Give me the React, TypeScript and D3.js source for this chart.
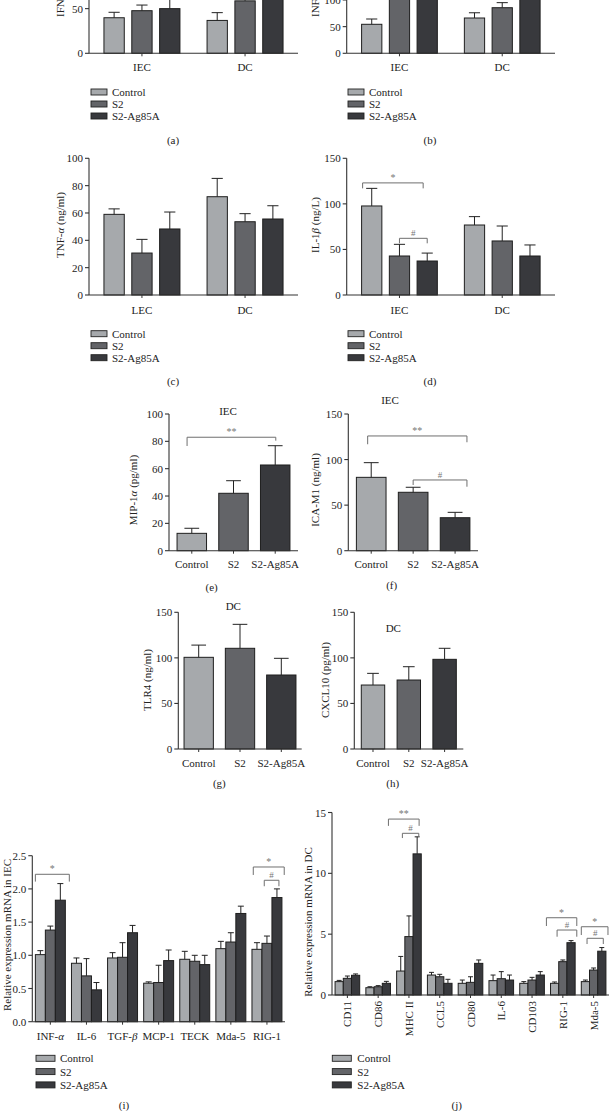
import React from "react";
import * as d3 from "d3";

const SERIES = ["Control", "S2", "S2-Ag85A"];
const COLORS = ["#a6a9ac", "#636468", "#38393d"];
const FONT = "'Liberation Serif', 'Times New Roman', serif";

// (a) IFN
const catsA = ["IEC", "DC"];
const aControl = [39.8, 36.8];
const aControlErr = [6.1, 8.7];
const aS2 = [47.7, 58.7];
const aS2Err = [6.3, 7];
const aAg = [50, 75];
const aAgErr = [15, 10];

// (b) INF
const catsB = ["IEC", "DC"];
const bControl = [54.4, 66.2];
const bControlErr = [9.9, 9.8];
const bS2 = [125, 85.5];
const bS2Err = [15, 9.5];
const bAg = [130, 115];
const bAgErr = [20, 15];

// (c) TNF-α
const catsC = ["LEC", "DC"];
const cControl = [59, 71.9];
const cControlErr = [4, 13.4];
const cS2 = [30.7, 53.6];
const cS2Err = [10, 5.9];
const cAg = [48.3, 55.6];
const cAgErr = [12.4, 9.7];

// (d) IL-1β
const catsD = ["IEC", "DC"];
const dControl = [97.7, 76.8];
const dControlErr = [19.3, 9.2];
const dS2 = [42.8, 59.3];
const dS2Err = [12.8, 16.4];
const dAg = [37.3, 42.8];
const dAgErr = [8.7, 12.1];

// (e)-(h) single groups
const eMeans = [12.7, 42, 62.7];
const eErrs = [3.7, 9.2, 14.1];
const fMeans = [80.5, 64.1, 36.2];
const fErrs = [16.1, 5.5, 5.9];
const gMeans = [100.6, 110.5, 81.2];
const gErrs = [13.4, 26.3, 18.3];
const hMeans = [70.2, 75.7, 98.4];
const hErrs = [12.8, 14.6, 12.1];

// (i) IEC mRNA
const catsI = ["INF-α", "IL-6", "TGF-β", "MCP-1", "TECK", "Mda-5", "RIG-1"];
const iControl = [1.01, 0.88, 0.96, 0.58, 0.94, 1.10, 1.09];
const iControlErr = [0.06, 0.08, 0.08, 0.02, 0.12, 0.11, 0.10];
const iS2 = [1.38, 0.69, 0.97, 0.59, 0.91, 1.20, 1.18];
const iS2Err = [0.06, 0.26, 0.22, 0.26, 0.09, 0.14, 0.11];
const iAg = [1.83, 0.48, 1.34, 0.92, 0.86, 1.63, 1.87];
const iAgErr = [0.25, 0.11, 0.11, 0.16, 0.14, 0.11, 0.13];

// (j) DC mRNA
const catsJ = ["CD11", "CD86", "MHC II", "CCL5", "CD80", "IL-6", "CD103", "RIG-1", "Mda-5"];
const jControl = [1.1, 0.6, 1.97, 1.64, 0.96, 1.18, 0.96, 0.96, 1.1];
const jControlErr = [0.1, 0.08, 1.2, 0.22, 0.27, 0.46, 0.14, 0.11, 0.13];
const jS2 = [1.37, 0.68, 4.8, 1.5, 1.04, 1.34, 1.23, 2.74, 2.05];
const jS2Err = [0.19, 0.09, 1.7, 0.2, 0.46, 0.58, 0.22, 0.14, 0.17];
const jAg = [1.62, 0.96, 11.6, 0.96, 2.6, 1.23, 1.64, 4.3, 3.6];
const jAgErr = [0.11, 0.16, 1.4, 0.33, 0.28, 0.41, 0.28, 0.17, 0.3];

type Seg = { t: string; it: boolean };
function segs(s: string): Seg[] {
  const out: Seg[] = [];
  for (const ch of s) {
    const it = /[αβγ]/.test(ch);
    const last = out[out.length - 1];
    if (last && last.it === it) last.t += ch;
    else out.push({ t: ch, it });
  }
  return out;
}
function RT(props: any) {
  const { s, ...rest } = props;
  return (
    <text fontFamily={FONT} fontSize={11} fill="#222" {...rest}>
      {segs(s).map((g, i) => (
        <tspan key={i} fontStyle={g.it ? "italic" : "normal"}>{g.t}</tspan>
      ))}
    </text>
  );
}

interface Bracket {
  cat: number; fromS: number; fromF: number; toS: number; toF: number;
  y: number; yl: number; yr: number; label: string;
}

function Legend({ x, y, gap, w, h, tx }: any) {
  return (
    <g>
      {SERIES.map((s, i) => (
        <g key={s}>
          <rect x={x} y={y + i * gap - h / 2} width={w} height={h} fill={COLORS[i]} stroke="#222" strokeWidth={0.9} />
          <text x={x + tx} y={y + i * gap + 4} fontFamily={FONT} fontSize={11} fill="#222">{s}</text>
        </g>
      ))}
    </g>
  );
}

function YAxis({ y, x, ticks, fmt, top }: any) {
  const vis = ticks.filter((t: number) => y(t) >= -3);
  return (
    <g>
      <line x1={x} x2={x} y1={y(0)} y2={top} stroke="#333" strokeWidth={1.1} />
      {vis.map((t: number) => (
        <g key={t}>
          <line x1={x - 4} x2={x} y1={y(t)} y2={y(t)} stroke="#333" strokeWidth={1.1} />
          <text x={x - 6} y={y(t) + 4} textAnchor="end" fontFamily={FONT} fontSize={11} fill="#222">{fmt(t)}</text>
        </g>
      ))}
    </g>
  );
}

function Grouped(cfg: any) {
  const x0 = d3.scaleBand<string>().domain(cfg.cats).range(cfg.xr).paddingInner(cfg.pIn).paddingOuter(cfg.pOut);
  const x1 = d3.scaleBand<string>().domain(SERIES).range([0, x0.bandwidth()]).paddingInner(cfg.barPad);
  const y = d3.scaleLinear().domain(cfg.domain).range([cfg.yb, cfg.yt]);
  const bw = x1.bandwidth();
  const cx = (ci: number, si: number) => (x0(cfg.cats[ci]) as number) + (x1(SERIES[si]) as number) + bw / 2;
  const capW = bw * cfg.capFrac;
  return (
    <g>
      {SERIES.map((s, si) =>
        cfg.cats.map((c: string, ci: number) => {
          const v = cfg.means[si][ci];
          const e = cfg.errs[si][ci];
          const xc = cx(ci, si);
          return (
            <g key={s + c}>
              <rect x={xc - bw / 2} y={y(v)} width={bw} height={y(0) - y(v)} fill={COLORS[si]} stroke="#1e1e1e" strokeWidth={1} />
              <line x1={xc} x2={xc} y1={y(v)} y2={y(v + e)} stroke="#222" strokeWidth={1} />
              <line x1={xc - capW / 2} x2={xc + capW / 2} y1={y(v + e)} y2={y(v + e)} stroke="#222" strokeWidth={1} />
            </g>
          );
        })
      )}
      <YAxis y={y} x={cfg.xr[0]} ticks={cfg.ticks} fmt={cfg.fmt} top={cfg.yt} />
      <line x1={cfg.xr[0]} x2={cfg.xr[1]} y1={y(0)} y2={y(0)} stroke="#333" strokeWidth={1.1} />
      {cfg.cats.map((c: string) => {
        const mx = (x0(c) as number) + x0.bandwidth() / 2;
        return (
          <g key={c}>
            <line x1={mx} x2={mx} y1={y(0)} y2={y(0) + 3} stroke="#333" strokeWidth={1} />
            {cfg.catRot ? (
              <RT s={c} transform={`translate(${mx + 4},${cfg.catY}) rotate(-90)`} textAnchor="end" />
            ) : (
              <RT s={c} x={mx} y={cfg.catY + 4} textAnchor="middle" />
            )}
          </g>
        );
      })}
      {cfg.brackets.map((b: Bracket, k: number) => {
        const xl = cx(b.cat, b.fromS) + b.fromF * bw;
        const xr = cx(b.cat, b.toS) + b.toF * bw;
        return (
          <g key={k}>
            <path d={`M${xl},${y(b.yl)}V${y(b.y)}H${xr}V${y(b.yr)}`} fill="none" stroke="#6f6f6f" strokeWidth={1} />
            <text x={(xl + xr) / 2} y={y(b.y) - 2} textAnchor="middle" fontFamily={FONT} fontSize={b.label === "#" ? 9 : 10} fill="#777">{b.label}</text>
          </g>
        );
      })}
      <RT s={cfg.ylabel} transform={`translate(${cfg.ylx},${cfg.yly}) rotate(-90)`} textAnchor={cfg.ylAnchor} dominantBaseline="central" />
      <Legend {...cfg.legend} />
    </g>
  );
}

interface SBracket { fromC: number; fromF: number; toC: number; toF: number; y: number; yl: number; yr: number; label: string }

function Simple(cfg: any) {
  const x = d3.scaleBand<string>().domain(SERIES).range(cfg.xr).paddingInner(cfg.pIn).paddingOuter(cfg.pOut);
  const y = d3.scaleLinear().domain(cfg.domain).range([cfg.yb, cfg.yt]);
  const bw = x.bandwidth();
  const cx = (i: number) => (x(SERIES[i]) as number) + bw / 2;
  const capW = bw * 0.5;
  return (
    <g>
      {SERIES.map((s, i) => {
        const v = cfg.means[i];
        const e = cfg.errs[i];
        const xc = cx(i);
        return (
          <g key={s}>
            <rect x={xc - bw / 2} y={y(v)} width={bw} height={y(0) - y(v)} fill={COLORS[i]} stroke="#1e1e1e" strokeWidth={1} />
            <line x1={xc} x2={xc} y1={y(v)} y2={y(v + e)} stroke="#222" strokeWidth={1} />
            <line x1={xc - capW / 2} x2={xc + capW / 2} y1={y(v + e)} y2={y(v + e)} stroke="#222" strokeWidth={1} />
            <line x1={xc} x2={xc} y1={y(0)} y2={y(0) + 3} stroke="#333" strokeWidth={1} />
            <text x={xc} y={cfg.catY + 4} textAnchor="middle" fontFamily={FONT} fontSize={11} fill="#222">{s}</text>
          </g>
        );
      })}
      <YAxis y={y} x={cfg.xr[0]} ticks={cfg.ticks} fmt={(v: number) => String(v)} top={cfg.yt} />
      <line x1={cfg.xr[0]} x2={cfg.xr[1]} y1={y(0)} y2={y(0)} stroke="#333" strokeWidth={1.1} />
      {cfg.brackets.map((b: SBracket, k: number) => {
        const xl = cx(b.fromC) + b.fromF * bw;
        const xr = cx(b.toC) + b.toF * bw;
        return (
          <g key={k}>
            <path d={`M${xl},${y(b.yl)}V${y(b.y)}H${xr}V${y(b.yr)}`} fill="none" stroke="#6f6f6f" strokeWidth={1} />
            <text x={(xl + xr) / 2} y={y(b.y) - 2} textAnchor="middle" fontFamily={FONT} fontSize={b.label === "#" ? 9 : 10} fill="#777">{b.label}</text>
          </g>
        );
      })}
      <text x={cfg.titleX} y={cfg.titleY + 4} textAnchor="middle" fontFamily={FONT} fontSize={11} fill="#222">{cfg.title}</text>
      <RT s={cfg.ylabel} transform={`translate(${cfg.ylx},${cfg.yly}) rotate(-90)`} textAnchor="middle" dominantBaseline="central" />
    </g>
  );
}

const int = (v: number) => String(v);
const legAB = { gap: 12, w: 16, h: 6, tx: 21 };
const legIJ = { gap: 13.3, w: 19, h: 6, tx: 24 };

const panelLabels = [
  ["(a)", 173, 140], ["(b)", 430, 140], ["(c)", 173, 381], ["(d)", 430, 381],
  ["(e)", 211.7, 586.7], ["(f)", 391.7, 585], ["(g)", 219.3, 783.3], ["(h)", 392.7, 783.3],
  ["(i)", 124, 1105], ["(j)", 456.7, 1105],
];

export default function App() {
  const common = { pIn: 0.263, pOut: 0.145, barPad: 0.27, capFrac: 0.55, ylAnchor: "middle" };
  return (
    <div style={{ position: "absolute", left: 0, top: 0 }}>
      <svg width={609} height={1111} style={{ display: "block", background: "#fff" }}>
        <Grouped {...common} cats={catsA} means={[aControl, aS2, aAg]} errs={[aControlErr, aS2Err, aAgErr]}
          xr={[89, 298]} domain={[0, 150]} yb={53.3} yt={-80.7} ticks={[0, 50, 100, 150]} fmt={int}
          ylabel="IFN-γ (pg/ml)" ylx={60} yly={17} ylAnchor="start" catY={67} catRot={false}
          legend={{ x: 91, y: 92, ...legAB }} brackets={[]} />
        <Grouped {...common} cats={catsB} means={[bControl, bS2, bAg]} errs={[bControlErr, bS2Err, bAgErr]}
          xr={[346.7, 555]} domain={[0, 250]} yb={53.3} yt={-80} ticks={[0, 50, 100, 150, 200, 250]} fmt={int}
          ylabel="INF-β (pg/ml)" ylx={315} yly={17} ylAnchor="start" catY={67} catRot={false}
          legend={{ x: 348, y: 92, ...legAB }} brackets={[]} />
        <Grouped {...common} cats={catsC} means={[cControl, cS2, cAg]} errs={[cControlErr, cS2Err, cAgErr]}
          xr={[89, 298]} domain={[0, 100]} yb={295} yt={158.3} ticks={[0, 20, 40, 60, 80, 100]} fmt={int}
          ylabel="TNF-α (ng/ml)" ylx={60} yly={225} catY={310} catRot={false}
          legend={{ x: 91, y: 333.7, ...legAB }} brackets={[]} />
        <Grouped {...common} cats={catsD} means={[dControl, dS2, dAg]} errs={[dControlErr, dS2Err, dAgErr]}
          xr={[346.7, 555]} domain={[0, 150]} yb={295} yt={158.3} ticks={[0, 50, 100, 150]} fmt={int}
          ylabel="IL-1β (ng/L)" ylx={315} yly={225} catY={310} catRot={false}
          legend={{ x: 348, y: 333.7, ...legAB }}
          brackets={[
            { cat: 0, fromS: 0, fromF: -0.45, toS: 2, toF: -0.2, y: 123, yl: 117, yr: 117, label: "*" },
            { cat: 0, fromS: 1, fromF: 0, toS: 2, toF: 0, y: 62.2, yl: 56.7, yr: 56.7, label: "#" },
          ]} />

        <Simple means={eMeans} errs={eErrs} xr={[169, 298]} pIn={0.293} pOut={0.193} domain={[0, 100]} yb={550.7} yt={414}
          ticks={[0, 20, 40, 60, 80, 100]} catY={564} title="IEC" titleX={228} titleY={410.7}
          ylabel="MIP-1α (pg/ml)" ylx={133} yly={490}
          brackets={[{ fromC: 0, fromF: -0.16, toC: 2, toF: 0.02, y: 83, yl: 76.6, yr: 80.5, label: "**" }]} />
        <Simple means={fMeans} errs={fErrs} xr={[348.3, 478]} pIn={0.293} pOut={0.193} domain={[0, 150]} yb={550.7} yt={414}
          ticks={[0, 50, 100, 150]} catY={564} title="IEC" titleX={390} titleY={400}
          ylabel="ICA-M1 (ng/ml)" ylx={315} yly={490}
          brackets={[
            { fromC: 0, fromF: -0.12, toC: 2, toF: 0.4, y: 125.9, yl: 116.8, yr: 119, label: "**" },
            { fromC: 1, fromF: 0, toC: 2, toF: 0.4, y: 77.6, yl: 72.1, yr: 70.2, label: "#" },
          ]} />
        <Simple means={gMeans} errs={gErrs} xr={[178.3, 301.7]} pIn={0.29} pOut={0.139} domain={[0, 150]} yb={749} yt={612.3}
          ticks={[0, 50, 100, 150]} catY={763.3} title="DC" titleX={233.3} titleY={606}
          ylabel="TLR4 (ng/ml)" ylx={146.7} yly={680} brackets={[]} />
        <Simple means={hMeans} errs={hErrs} xr={[354.3, 463.3]} pIn={0.346} pOut={0.195} domain={[0, 150]} yb={749} yt={612.3}
          ticks={[0, 50, 100, 150]} catY={763.3} title="DC" titleX={393.3} titleY={628.3}
          ylabel="CXCL10 (pg/ml)" ylx={325} yly={680} brackets={[]} />

        <Grouped cats={catsI} means={[iControl, iS2, iAg]} errs={[iControlErr, iS2Err, iAgErr]}
          xr={[32.3, 285]} pIn={0.17} pOut={0.085} barPad={0} capFrac={0.6}
          domain={[0, 2.5]} yb={1021.7} yt={855.7} ticks={[0, 0.5, 1, 1.5, 2, 2.5]} fmt={d3.format(".1f")}
          ylabel="Relative expression mRNA in IEC" ylx={7} yly={935} ylAnchor="middle" catY={1036} catRot={false}
          legend={{ x: 36, y: 1058.3, ...legIJ }}
          brackets={[
            { cat: 0, fromS: 0, fromF: -0.5, toS: 2, toF: 0.9, y: 2.22, yl: 2.11, yr: 2.11, label: "*" },
            { cat: 6, fromS: 0, fromF: -0.37, toS: 2, toF: 0.73, y: 2.33, yl: 2.21, yr: 2.21, label: "*" },
            { cat: 6, fromS: 1, fromF: -0.27, toS: 2, toF: 0.2, y: 2.13, yl: 2.04, yr: 2.04, label: "#" },
          ]} />
        <Grouped cats={catsJ} means={[jControl, jS2, jAg]} errs={[jControlErr, jS2Err, jAgErr]}
          xr={[332, 609]} pIn={0.2} pOut={0.1} barPad={0} capFrac={0.6}
          domain={[0, 15]} yb={995} yt={812.5} ticks={[0, 5, 10, 15]} fmt={int}
          ylabel="Relative expression mRNA in DC" ylx={308} yly={922} ylAnchor="middle" catY={1001} catRot={true}
          legend={{ x: 332.3, y: 1058.3, ...legIJ, tx: 25 }}
          brackets={[
            { cat: 2, fromS: 0, fromF: -1.5, toS: 2, toF: 0.24, y: 14.46, yl: 13.9, yr: 13.9, label: "**" },
            { cat: 2, fromS: 1, fromF: -0.8, toS: 2, toF: 0.2, y: 13.29, yl: 12.9, yr: 13.0, label: "#" },
            { cat: 7, fromS: 0, fromF: -1.0, toS: 2, toF: 0.7, y: 6.35, yl: 5.67, yr: 5.67, label: "*" },
            { cat: 7, fromS: 1, fromF: -0.7, toS: 2, toF: 0.7, y: 5.34, yl: 4.79, yr: 4.79, label: "#" },
            { cat: 8, fromS: 0, fromF: -0.5, toS: 2, toF: 0.75, y: 5.61, yl: 4.93, yr: 4.93, label: "*" },
            { cat: 8, fromS: 1, fromF: -0.8, toS: 2, toF: 0.18, y: 4.66, yl: 4.19, yr: 4.19, label: "#" },
          ]} />

        {panelLabels.map(([t, x, y]) => (
          <text key={t as string} x={x as number} y={(y as number) + 4} textAnchor="middle" fontFamily={FONT} fontSize={11} fill="#222">{t}</text>
        ))}
      </svg>
    </div>
  );
}
